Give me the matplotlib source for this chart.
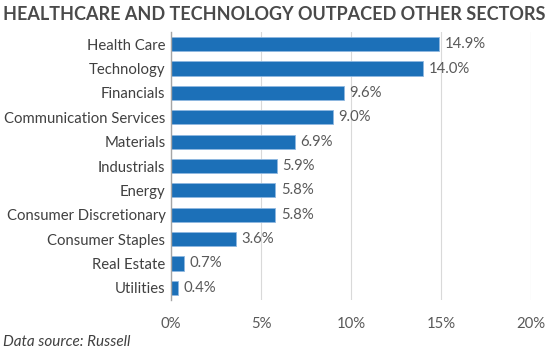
import matplotlib
matplotlib.use("Agg")
import matplotlib.pyplot as plt

categories = ["Health Care", "Technology", "Financials", "Communication Services",
              "Materials", "Industrials", "Energy", "Consumer Discretionary",
              "Consumer Staples", "Real Estate", "Utilities"]
values = [14.9, 14.0, 9.6, 9.0, 6.9, 5.9, 5.8, 5.8, 3.6, 0.7, 0.4]
xticks = [0, 5, 10, 15, 20]
xtick_labels = ["0%", "5%", "10%", "15%", "20%"]

plt.rcParams['font.family'] = ['Lato', 'DejaVu Sans']

fig = plt.figure(figsize=(5.5, 3.53), dpi=100)
ax = fig.add_axes([171/550, 1 - 300/353, 360/550, 268/353])

y = list(range(len(categories)))
ax.barh(y, values, height=0.58, color="#1c70b8", edgecolor="#8fb8e0", linewidth=0.6, zorder=3)
for yi, v in zip(y, values):
    ax.text(v + 0.3, yi, f"{v:.1f}%", va="center", ha="left", fontsize=10.7, color="#595959")

ax.set_ylim(len(categories) - 0.5, -0.5)
ax.set_xlim(0, 20)
ax.set_yticks(y)
ax.set_yticklabels(categories, fontsize=10.7, color="#404040")
ax.set_xticks(xticks)
ax.set_xticklabels(xtick_labels, fontsize=10.7, color="#595959")
ax.tick_params(axis="both", length=0)
ax.tick_params(axis="x", pad=12)
ax.tick_params(axis="y", pad=4)
ax.grid(axis="x", color="#d9d9d9", linewidth=0.8, zorder=0)
for s in ["top", "right", "bottom"]:
    ax.spines[s].set_visible(False)
ax.spines["left"].set_color("#a6a6a6")
ax.spines["left"].set_linewidth(1.0)
ax.spines["left"].set_zorder(4)

title = fig.text(3/550, 1 - 14/353, "HEALTHCARE AND TECHNOLOGY OUTPACED OTHER SECTORS",
                 fontsize=13, fontweight="bold", color="#4a4a4a", va="center", ha="left")
renderer = fig.canvas.get_renderer()
w = title.get_window_extent(renderer).width
title.set_fontsize(13 * 540 / w)

fig.text(3/550, 1 - 342/353, "Data source: Russell", fontsize=11, style="italic",
         color="#404040", va="center", ha="left")

fig.savefig("out.png", dpi=100)
